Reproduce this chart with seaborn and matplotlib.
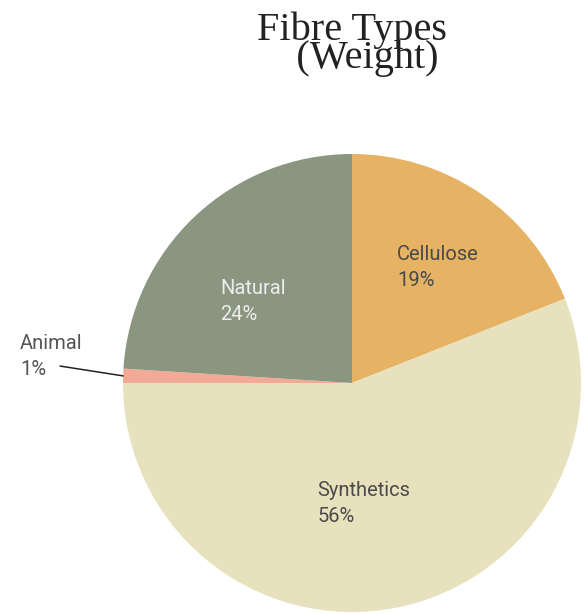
import matplotlib

matplotlib.use("Agg")
import matplotlib.pyplot as plt  # noqa: E402
import seaborn as sns  # noqa: E402

labels = ["Cellulose", "Synthetics", "Animal", "Natural"]
shares = [19, 56, 1, 24]
colors = ["#E5B363", "#E8E1BE", "#F2A995", "#8A9680"]
label_colors = ["#4a4a4a", "#4a4a4a", "#4a4a4a", "#EDEDED"]

sns.set_style("white")
plt.rcParams["font.family"] = ["Roboto", "DejaVu Sans"]

fig = plt.figure(figsize=(5.88, 6.13), dpi=100)
ax = fig.add_axes([123 / 588, 1 / 613, 458 / 588, 458 / 613])
wedges, _ = ax.pie(shares, colors=colors, startangle=90, counterclock=False,
                   radius=1.0, wedgeprops={"linewidth": 0})
ax.set_xlim(-1, 1)
ax.set_ylim(-1, 1)
ax.set_aspect("equal")
ax.axis("off")

# label positions (data coords, left edge / vertical centre of the two-line block)
pos = {
    "Cellulose": (0.197, 0.505),
    "Synthetics": (-0.15, -0.525),
    "Natural": (-0.575, 0.355),
}
for name, share, col in zip(labels, shares, label_colors):
    if name in pos:
        x, y = pos[name]
        ax.text(x, y, f"{name}\n{share}%", ha="left", va="center",
                fontsize=14.5, color=col, linespacing=1.45)

# small slice with a leader line
ax.text(-1.45, 0.115, f"{labels[2]}\n{shares[2]}%", ha="left", va="center",
        fontsize=14.5, color="#555555", linespacing=1.45, clip_on=False)
ax.plot([-1.275, -0.9995], [0.074, 0.031], color="#222222", lw=1.1,
        clip_on=False)

fig.text(352 / 588, 1 - 44 / 613, "Fibre Types\n   (Weight)", ha="center",
         va="center", multialignment="center", fontsize=29,
         family=["Liberation Serif", "DejaVu Serif"], color="#222222",
         linespacing=0.68)

fig.savefig("out.png", dpi=100, facecolor="white")
plt.close(fig)
